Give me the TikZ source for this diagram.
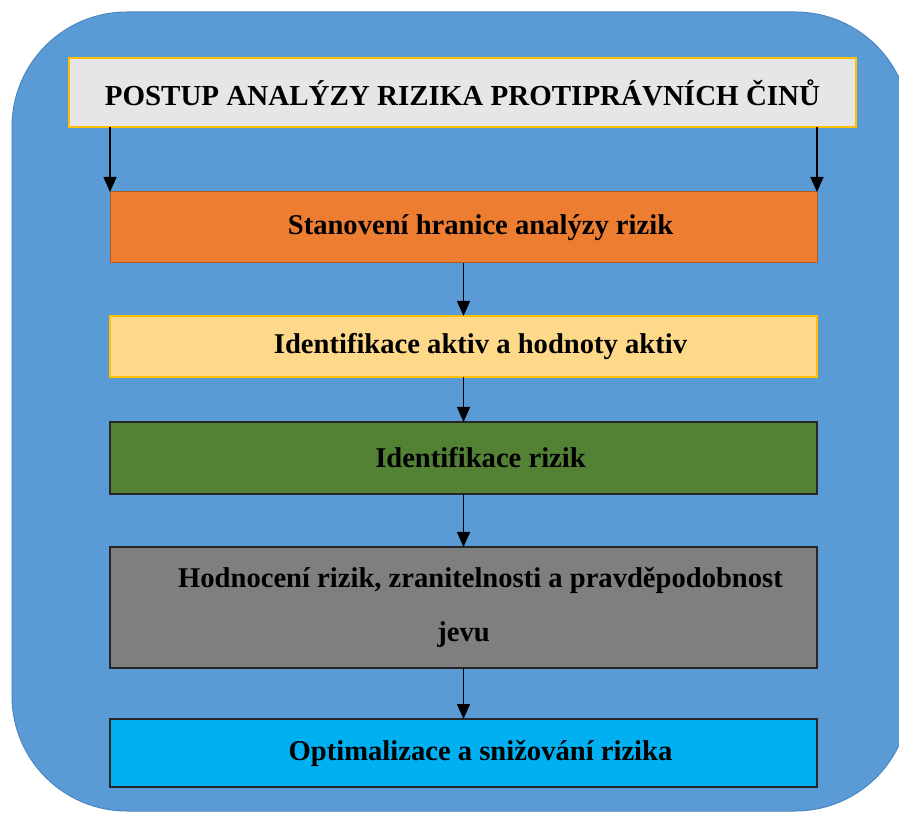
\documentclass[tikz,border=0pt]{standalone}
\usepackage{fontspec}
\setmainfont{Liberation Serif}
\usepackage{tikz}
\usetikzlibrary{arrows.meta}
\usetikzlibrary{positioning}
\definecolor{bgblue}{HTML}{5B9BD5}
\definecolor{bgedge}{HTML}{4A86C0}
\definecolor{titlefill}{HTML}{E7E6E6}
\definecolor{gold}{HTML}{FFC000}
\definecolor{orangefill}{HTML}{ED7D31}
\definecolor{orangeedge}{HTML}{AE5A21}
\definecolor{yellowfill}{HTML}{FFD98A}
\definecolor{greenfill}{HTML}{548235}
\definecolor{grayfill}{HTML}{7F7F7F}
\definecolor{cyanfill}{HTML}{00B0F0}
\tikzstyle{stage} = [draw,rectangle,line width=1.5pt,inner sep=0pt,outer sep=0pt,minimum width=707pt,align=center,font=\fontsize{28.6}{33}\selectfont\bfseries]
\tikzstyle{headbox} = [stage,fill=titlefill,draw=gold,minimum width=787pt,minimum height=69pt,font=\fontsize{29}{33}\selectfont\bfseries]
\newcommand{\indnt}{\hspace*{34pt}}

\begin{document}
\begin{tikzpicture}[->,>={Triangle[length=15pt,width=13pt]},line width=1.5pt,x=1pt,y=1pt]
\useasboundingbox (0,0) rectangle (899,814);
\filldraw[-,fill=bgblue,draw=bgedge,line width=1pt,rounded corners=115pt] (12,3) rectangle (910,802);

\node[headbox] (T) at (462.5,721.5) {POSTUP ANALÝZY RIZIKA PROTIPRÁVNÍCH ČINŮ};
\node[stage, fill=orangefill, draw=orangeedge, line width=1pt, minimum height=71pt][below=65pt of T, xshift=1pt](S1){\indnt Stanovení hranice analýzy rizik};
\node[stage, fill=yellowfill, draw=gold, minimum height=61pt][below=53pt of S1](S2){\indnt Identifikace aktiv a hodnoty aktiv};
\node[stage, fill=greenfill, draw=black!85, line width=2pt, minimum height=72pt][below=45pt of S2](S3){\indnt Identifikace rizik};
\node[stage, fill=grayfill, draw=black!85, minimum height=121pt, font=\fontsize{28.6}{54}\selectfont\bfseries][below=53pt of S3](S4){\indnt Hodnocení rizik, zranitelnosti a pravděpodobnost\\ jevu};
\node[stage, fill=cyanfill, draw=black!85, minimum height=68pt][below=51pt of S4](S5){\indnt Optimalizace a snižování rizika};

\draw (T.south -| S1.west) -- (S1.north west);
\draw (T.south -| S1.east) -- (S1.north east);

\path
	(S1) edge (S2)
	(S2) edge (S3)
	(S3) edge (S4)
	(S4) edge (S5);

\end{tikzpicture}
\end{document}
